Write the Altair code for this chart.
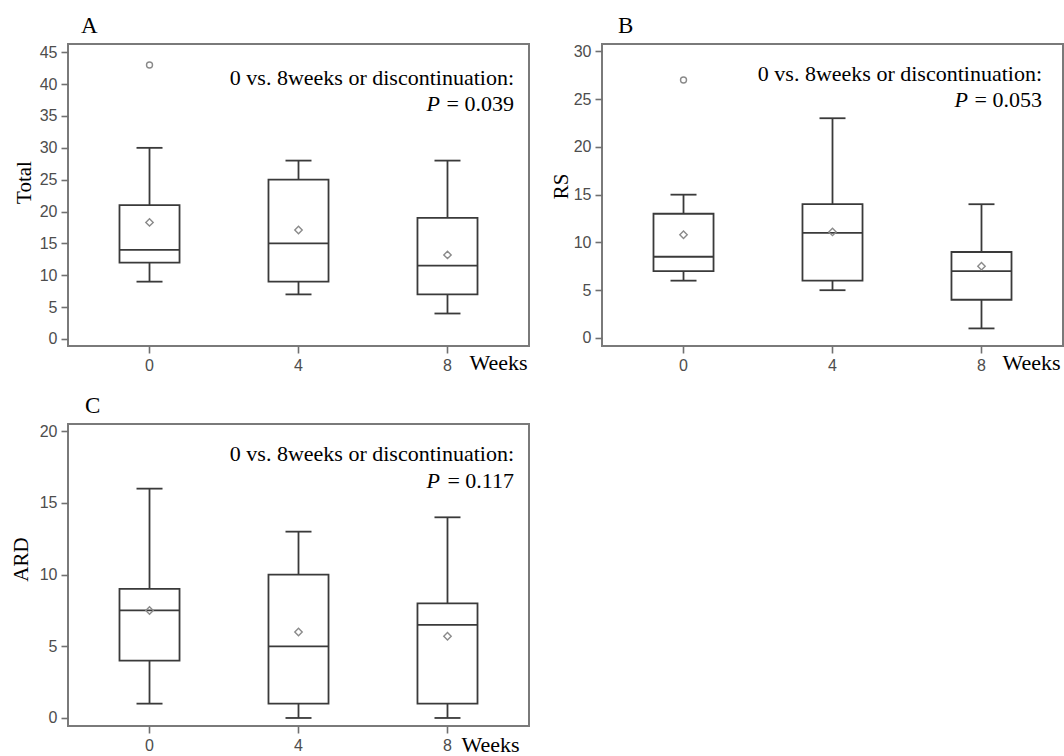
import altair as alt
import pandas as pd

weeks = ["0", "4", "8"]

# Panel A: Total
total_low = [9, 7, 4]
total_q1 = [12, 9, 7]
total_median = [14, 15, 11.5]
total_q3 = [21, 25, 19]
total_high = [30, 28, 28]
total_mean = [18.3, 17.1, 13.2]
total_outlier_week = ["0"]
total_outlier = [43]
total_ticks = [0, 5, 10, 15, 20, 25, 30, 35, 40, 45]

# Panel B: RS
rs_low = [6, 5, 1]
rs_q1 = [7, 6, 4]
rs_median = [8.5, 11, 7]
rs_q3 = [13, 14, 9]
rs_high = [15, 23, 14]
rs_mean = [10.8, 11.1, 7.5]
rs_outlier_week = ["0"]
rs_outlier = [27]
rs_ticks = [0, 5, 10, 15, 20, 25, 30]

# Panel C: ARD
ard_low = [1, 0, 0]
ard_q1 = [4, 1, 1]
ard_median = [7.5, 5, 6.5]
ard_q3 = [9, 10, 8]
ard_high = [16, 13, 14]
ard_mean = [7.5, 6.0, 5.7]
ard_outlier_week = []
ard_outlier = []
ard_ticks = [0, 5, 10, 15, 20]

letters = ["A", "B", "C"]
y_titles = ["Total", "RS", "ARD"]
comparison = "0 vs. 8weeks or discontinuation:"
p_values = ["= 0.039", "= 0.053", "= 0.117"]

SERIF = "Liberation Serif"
SANS = "Liberation Sans"
W, H = 461, 302
BOX = "#3a3a3a"
MARK = "#8a8a8a"
LW = 1.8


def panel(letter, ytitle, low, q1, med, q3, high, mean, ow, ov, ticks, pval,
          domain, geo):
    df = pd.DataFrame({"week": weeks, "low": low, "q1": q1, "median": med,
                       "q3": q3, "high": high, "mean": mean})
    out = pd.DataFrame({"week": ow, "value": ov})
    xenc = alt.X("week:N", sort=weeks,
                 scale=alt.Scale(type="band", domain=weeks,
                                 paddingInner=0.597, paddingOuter=0.3456),
                 axis=alt.Axis(title="Weeks", labelAngle=0,
                               titleX=geo["wx"], titleY=geo["wy"],
                               titleAlign="right", titleBaseline="alphabetic",
                               titleFontSize=22, labelPadding=4))
    yscale = alt.Scale(domain=domain, nice=False, zero=False)
    yaxis = alt.Axis(title=ytitle, values=ticks, titleX=geo["tx"],
                     titleY=geo["ty"], titleAngle=-90, titleAlign="center",
                     titleBaseline="alphabetic", labelPadding=4)
    base = alt.Chart(df)
    whisk_hi = base.mark_rule(color=BOX, strokeWidth=LW).encode(
        x=xenc, y=alt.Y("high:Q", scale=yscale, axis=yaxis), y2="q3:Q")
    whisk_lo = base.mark_rule(color=BOX, strokeWidth=LW).encode(
        x=xenc, y=alt.Y("q1:Q", scale=yscale, axis=yaxis), y2="low:Q")
    box = base.mark_bar(fill="white", stroke=BOX, strokeWidth=LW).encode(
        x=xenc, y=alt.Y("q1:Q", scale=yscale, axis=yaxis), y2="q3:Q")
    cap_hi = base.mark_tick(color=BOX, size=26, thickness=LW, opacity=1).encode(
        x=xenc, y=alt.Y("high:Q", scale=yscale, axis=yaxis))
    cap_lo = base.mark_tick(color=BOX, size=26, thickness=LW, opacity=1).encode(
        x=xenc, y=alt.Y("low:Q", scale=yscale, axis=yaxis))
    med_t = base.mark_tick(color=BOX, size=60, thickness=LW, opacity=1).encode(
        x=xenc, y=alt.Y("median:Q", scale=yscale, axis=yaxis))
    mean_p = base.mark_point(shape="diamond", size=55, filled=False,
                             color=MARK, strokeWidth=1.4, opacity=1).encode(
        x=xenc, y=alt.Y("mean:Q", scale=yscale, axis=yaxis))
    layers = [whisk_hi, whisk_lo, box, cap_hi, cap_lo, med_t, mean_p]
    if len(out):
        outl = alt.Chart(out).mark_point(shape="circle", size=36,
                                         filled=False, color=MARK,
                                         strokeWidth=1.4, opacity=1).encode(
            x=xenc, y=alt.Y("value:Q", scale=yscale, axis=yaxis))
        layers.append(outl)
    t1 = alt.Chart(pd.DataFrame({"t": [comparison]})).mark_text(
        font=SERIF, fontSize=22, align="right", baseline="alphabetic",
        color="black").encode(x=alt.value(geo["ax"]), y=alt.value(geo["ay1"]),
                              text="t:N")
    t2 = alt.Chart(pd.DataFrame({"t": [pval]})).mark_text(
        font=SERIF, fontSize=22, align="right", baseline="alphabetic",
        color="black").encode(x=alt.value(geo["ax"]), y=alt.value(geo["ay2"]),
                              text="t:N")
    tp = alt.Chart(pd.DataFrame({"t": ["P"]})).mark_text(
        font=SERIF, fontSize=22, fontStyle="italic", align="right",
        baseline="alphabetic", color="black").encode(
        x=alt.value(geo["px"]), y=alt.value(geo["ay2"]), text="t:N")
    tl = alt.Chart(pd.DataFrame({"t": [letter]})).mark_text(
        font=SERIF, fontSize=23, align="left", baseline="alphabetic",
        color="black").encode(x=alt.value(geo["lx"]), y=alt.value(geo["ly"]),
                              text="t:N")
    layers += [t1, t2, tp, tl]
    return alt.layer(*layers).properties(width=W, height=H)


geoA = dict(wx=459, wy=23, tx=-38, ty=138, ax=446, ay1=41, ay2=67, px=372,
            lx=13, ly=-11)
geoB = dict(wx=458, wy=23, tx=-35, ty=142, ax=440, ay1=37, ay2=63, px=366,
            lx=16, ly=-11)
geoC = dict(wx=451, wy=25, tx=-41, ty=135, ax=446, ay1=37, ay2=64, px=372,
            lx=17, ly=-11)

pA = panel(letters[0], y_titles[0], total_low, total_q1, total_median, total_q3,
           total_high, total_mean, total_outlier_week, total_outlier,
           total_ticks, p_values[0], [-1.1, 46.3], geoA)
pB = panel(letters[1], y_titles[1], rs_low, rs_q1, rs_median, rs_q3, rs_high,
           rs_mean, rs_outlier_week, rs_outlier, rs_ticks, p_values[1],
           [-0.84, 30.77], geoB)
pC = panel(letters[2], y_titles[2], ard_low, ard_q1, ard_median, ard_q3,
           ard_high, ard_mean, ard_outlier_week, ard_outlier, ard_ticks,
           p_values[2], [-0.56, 20.51], geoC)

chart = alt.concat(pA, pB, pC, columns=2, bounds="flush",
                   spacing={"row": 78, "column": 73}).properties(
    autosize=alt.AutoSizeParams(type="none"),
    padding={"left": 68, "top": 44, "right": 996, "bottom": 712},
).configure_view(stroke="#7a7a7a", strokeWidth=2).configure_axis(
    grid=False, domain=False, tickColor="#707070", tickWidth=1.6, tickSize=7,
    labelFont=SANS, labelFontSize=16, labelColor="#4d4d4d",
    titleFont=SERIF, titleFontSize=21, titleFontWeight="normal",
    titleColor="black",
).configure_axisX(titleFontSize=22)

chart.save("out.html", embed_options={"renderer": "svg", "actions": False})
